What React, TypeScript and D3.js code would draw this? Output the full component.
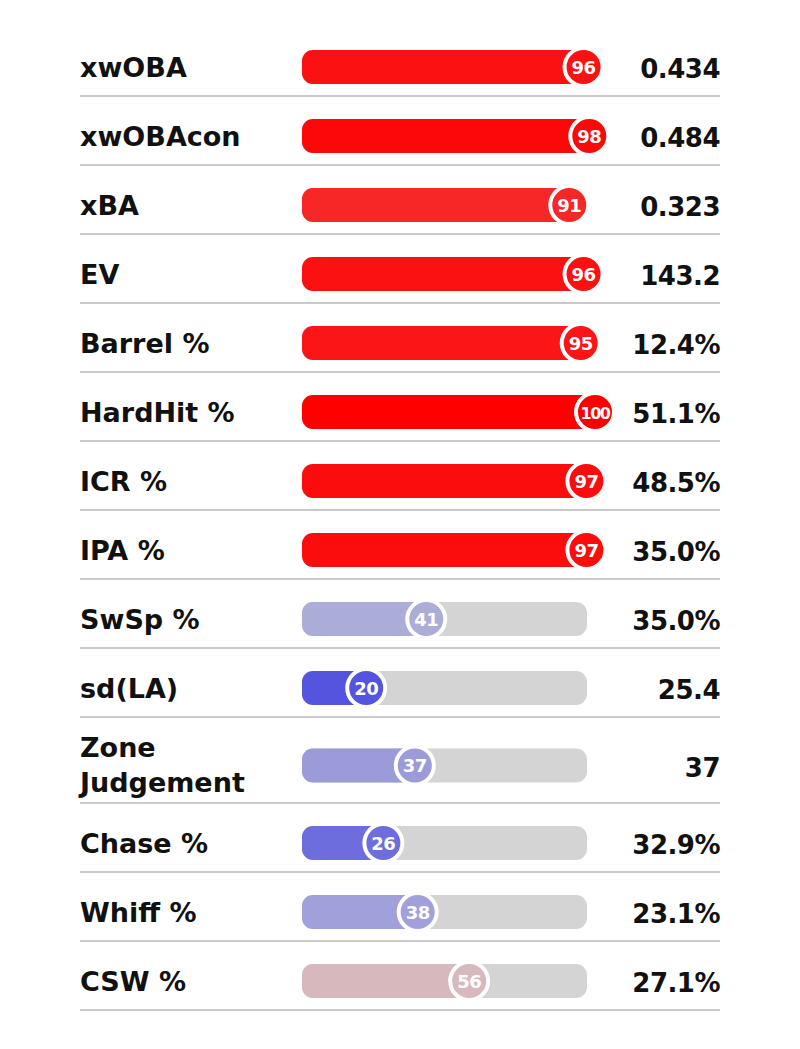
import React from "react";
import * as d3 from "d3";

const labels: string[][] = [
  ["xwOBA"], ["xwOBAcon"], ["xBA"], ["EV"], ["Barrel %"], ["HardHit %"], ["ICR %"],
  ["IPA %"], ["SwSp %"], ["sd(LA)"], ["Zone", "Judgement"], ["Chase %"], ["Whiff %"], ["CSW %"],
];
const percentiles: number[] = [96, 98, 91, 96, 95, 100, 97, 97, 41, 20, 37, 26, 38, 56];
const values: string[] = [
  "0.434", "0.484", "0.323", "143.2", "12.4%", "51.1%", "48.5%", "35.0%",
  "35.0%", "25.4", "37", "32.9%", "23.1%", "27.1%",
];

const W = 800;
const H = 1049;
const TOP = 27;
const ROW_H = 69;
const ROW_H2 = 86;
const LEFT = 80;
const RIGHT = 720;
const TRACK_X0 = 302;
const TRACK_X1 = 587;
const BAR_H = 34;
const R = 19;
const FONT = "'DejaVu Sans', sans-serif";

export default function App() {
  const x = d3.scaleLinear().domain([0, 100]).range([309, 595]);
  const color = d3
    .scaleLinear<string>()
    .domain([0, 50, 100])
    .range(["rgb(0,0,228)", "rgb(210,210,215)", "rgb(255,0,0)"])
    .interpolate(d3.interpolateRgb);

  let y = TOP;
  const rows = labels.map((lab, i) => {
    const h = lab.length > 1 ? ROW_H2 : ROW_H;
    const top = y;
    y += h;
    return { lab, top, h, cy: top + h / 2 + 5.5, p: percentiles[i], v: values[i] };
  });

  return (
    <svg
      width={W}
      height={H}
      style={{ position: "absolute", left: 0, top: 0, display: "block", background: "#fff" }}
    >
      <rect x={0} y={0} width={W} height={H} fill="#fff" />
      {rows.map((r, i) => {
        const cx = x(r.p);
        const c = color(r.p);
        return (
          <g key={i}>
            <line x1={LEFT} x2={RIGHT} y1={r.top + r.h} y2={r.top + r.h} stroke="#cacaca" strokeWidth={2} />
            {r.lab.length === 1 ? (
              <text x={LEFT} y={r.cy + 10} fontFamily={FONT} fontWeight="bold" fontSize={27} fill="#111">
                {r.lab[0]}
              </text>
            ) : (
              <text fontFamily={FONT} fontWeight="bold" fontSize={27} fill="#111">
                <tspan x={LEFT} y={r.cy - 9}>{r.lab[0]}</tspan>
                <tspan x={LEFT} y={r.cy + 26}>{r.lab[1]}</tspan>
              </text>
            )}
            <rect x={TRACK_X0} y={r.cy - BAR_H / 2} width={TRACK_X1 - TRACK_X0} height={BAR_H} rx={11} fill="#d4d4d4" />
            <rect x={TRACK_X0} y={r.cy - BAR_H / 2} width={cx - TRACK_X0} height={BAR_H} rx={11} fill={c} />
            <circle cx={cx} cy={r.cy} r={R} fill={c} stroke="#fff" strokeWidth={4} />
            <text
              x={cx}
              y={r.cy + 6.5}
              textAnchor="middle"
              fontFamily={FONT}
              fontWeight="bold"
              fontSize={r.p >= 100 ? 16 : 18}
              letterSpacing={r.p >= 100 ? -1.5 : -0.5}
              fill="#fff"
            >
              {r.p}
            </text>
            <text x={RIGHT} y={r.cy + 11} textAnchor="end" fontFamily={FONT} fontWeight="bold" fontSize={26} letterSpacing={-0.5} fill="#111">
              {r.v}
            </text>
          </g>
        );
      })}
    </svg>
  );
}
